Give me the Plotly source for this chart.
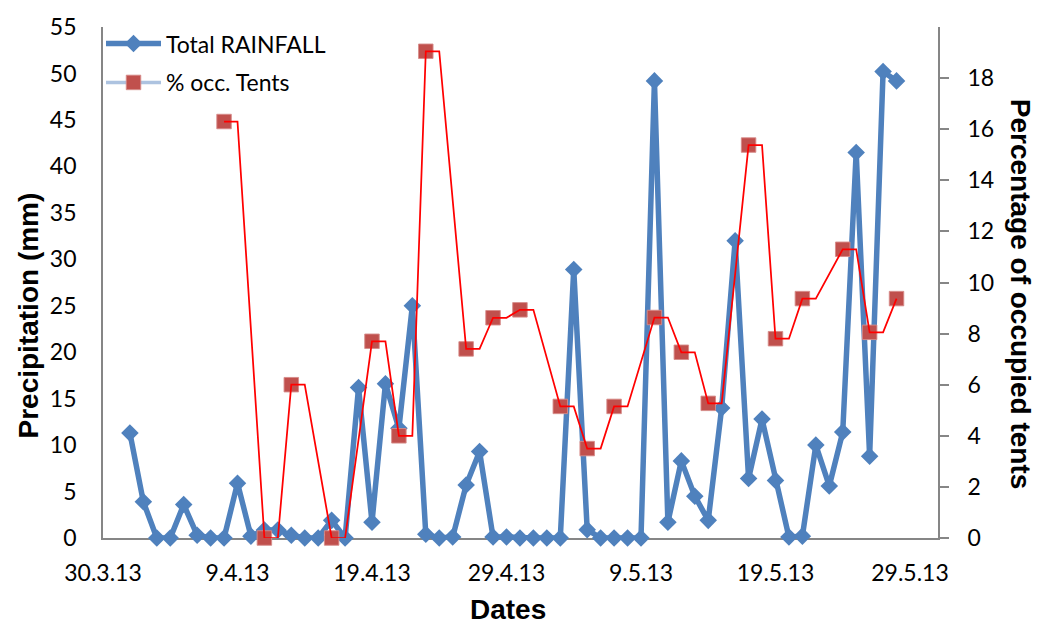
import pandas as pd
import plotly.graph_objects as go

# ---- data ----
rain_start = "2013-04-01"
rain_mm = [11.3, 3.9, 0, 0, 3.6, 0.3, 0, 0, 5.9, 0.2,
           0.85, 0.85, 0.3, 0, 0, 1.9, 0, 16.2, 1.7, 16.6,
           11.8, 25.0, 0.4, 0, 0.1, 5.7, 9.3, 0.1, 0.1, 0,
           0, 0, 0, 28.9, 0.9, 0, 0, 0, 0, 49.2,
           1.7, 8.3, 4.5, 1.9, 14.0, 32.0, 6.4, 12.8, 6.2, 0.1,
           0.2, 10.0, 5.6, 11.4, 41.5, 8.8, 50.2, 49.2]
tent_dates = ["2013-04-08", "2013-04-11", "2013-04-13", "2013-04-16", "2013-04-19",
              "2013-04-21", "2013-04-23", "2013-04-26", "2013-04-28", "2013-04-30",
              "2013-05-03", "2013-05-05", "2013-05-07", "2013-05-10", "2013-05-12",
              "2013-05-14", "2013-05-17", "2013-05-19", "2013-05-21", "2013-05-24",
              "2013-05-26", "2013-05-28"]
tent_pct = [16.3, 0, 6.0, 0, 7.7, 4.0, 19.05, 7.4, 8.62, 8.93,
            5.15, 3.5, 5.15, 8.63, 7.27, 5.27, 15.38, 7.8, 9.37, 11.3,
            8.05, 9.37]
tick_dates = ["2013-03-30", "2013-04-09", "2013-04-19", "2013-04-29",
              "2013-05-09", "2013-05-19", "2013-05-29"]
tick_labels = ["30.3.13", "9.4.13", "19.4.13", "29.4.13", "9.5.13", "19.5.13", "29.5.13"]
x_range = ["2013-03-30", "2013-05-31 02:00"]
y_ticks_right = [0, 2, 4, 6, 8, 10, 12, 14, 16, 18]

rain_dates = pd.date_range(rain_start, periods=len(rain_mm), freq="D")
tdates = pd.to_datetime(tent_dates)

# red line: each value held for one day, then joined to the next observation
line_x, line_y = [], []
for i, (d, v) in enumerate(zip(tdates, tent_pct)):
    line_x.append(d)
    line_y.append(v)
    if i < len(tent_pct) - 1:
        line_x.append(d + pd.Timedelta(days=1))
        line_y.append(v)

BLUE = "#4F81BD"
RED_M = "#C0504D"
AX = "#868686"
TICKFONT = dict(family="Lato", size=23, color="#000000")

fig = go.Figure()
fig.add_trace(go.Scatter(
    x=rain_dates, y=rain_mm, name="Total RAINFALL", mode="lines+markers",
    line=dict(color=BLUE, width=5.5),
    marker=dict(symbol="diamond", size=13.5, color=BLUE),
    cliponaxis=False, legendgroup="a"))
fig.add_trace(go.Scatter(
    x=tdates, y=tent_pct, yaxis="y2", mode="markers", showlegend=False,
    marker=dict(symbol="square", size=14.5, color=RED_M,
                line=dict(color="rgba(214,140,138,0.9)", width=1)),
    cliponaxis=False))
fig.add_trace(go.Scatter(
    x=line_x, y=line_y, yaxis="y2", mode="lines", showlegend=False,
    line=dict(color="#FF0000", width=1.75), hoverinfo="skip", cliponaxis=False))
fig.add_trace(go.Scatter(
    x=[None], y=[None], yaxis="y2", name="% occ. Tents", mode="lines+markers",
    line=dict(color="#ADC3E0", width=3.5),
    marker=dict(symbol="square", size=14.5, color=RED_M,
                line=dict(color="rgba(214,140,138,0.9)", width=1)),
    legendgroup="b"))

def px_x(p):
    return (p - 103) / 835

def px_y(p):
    return (538 - p) / 519

fig.update_layout(
    width=1039, height=624,
    margin=dict(l=103, r=101, t=19, b=86),
    paper_bgcolor="white", plot_bgcolor="white",
    showlegend=True,
    legend=dict(x=-2 / 835, y=1 + 5 / 519, xanchor="left", yanchor="top",
                bgcolor="rgba(0,0,0,0)", font=dict(family="Lato", size=23, color="#000"),
                itemwidth=55, tracegroupgap=6, borderwidth=0),
    xaxis=dict(type="date", range=x_range, tickvals=tick_dates, ticktext=tick_labels,
               showline=True, linecolor=AX, linewidth=1.75, ticks="",
               showgrid=False, zeroline=False, tickfont=TICKFONT,
               ticklabelstandoff=14, layer="below traces"),
    yaxis=dict(range=[0, 55], dtick=5, showline=True, linecolor=AX, linewidth=1.75,
               ticks="", showgrid=False, zeroline=False, tickfont=TICKFONT,
               ticklabelstandoff=20, layer="below traces"),
    yaxis2=dict(range=[0, 20], overlaying="y", side="right", tickvals=y_ticks_right,
                showline=True, linecolor=AX, linewidth=1.75, ticks="outside",
                ticklen=9, tickwidth=1.75, tickcolor=AX, showgrid=False, zeroline=False,
                tickfont=TICKFONT, ticklabelstandoff=14, layer="below traces"),
    annotations=[
        dict(text="Precipitation (mm)", xref="paper", yref="paper",
             x=px_x(28), y=px_y(312), textangle=-90, showarrow=False,
             xanchor="center", yanchor="middle",
             font=dict(family="Liberation Sans", size=28, color="#000", weight="bold")),
        dict(text="Percentage of occupied tents", xref="paper", yref="paper",
             x=px_x(1020), y=px_y(291), textangle=90, showarrow=False,
             xanchor="center", yanchor="middle",
             font=dict(family="Liberation Sans", size=28, color="#000", weight="bold")),
        dict(text="Dates", xref="paper", yref="paper",
             x=px_x(508), y=px_y(611), showarrow=False,
             xanchor="center", yanchor="middle",
             font=dict(family="Liberation Sans", size=28, color="#000", weight="bold")),
    ],
)

fig.write_html("out.html")
